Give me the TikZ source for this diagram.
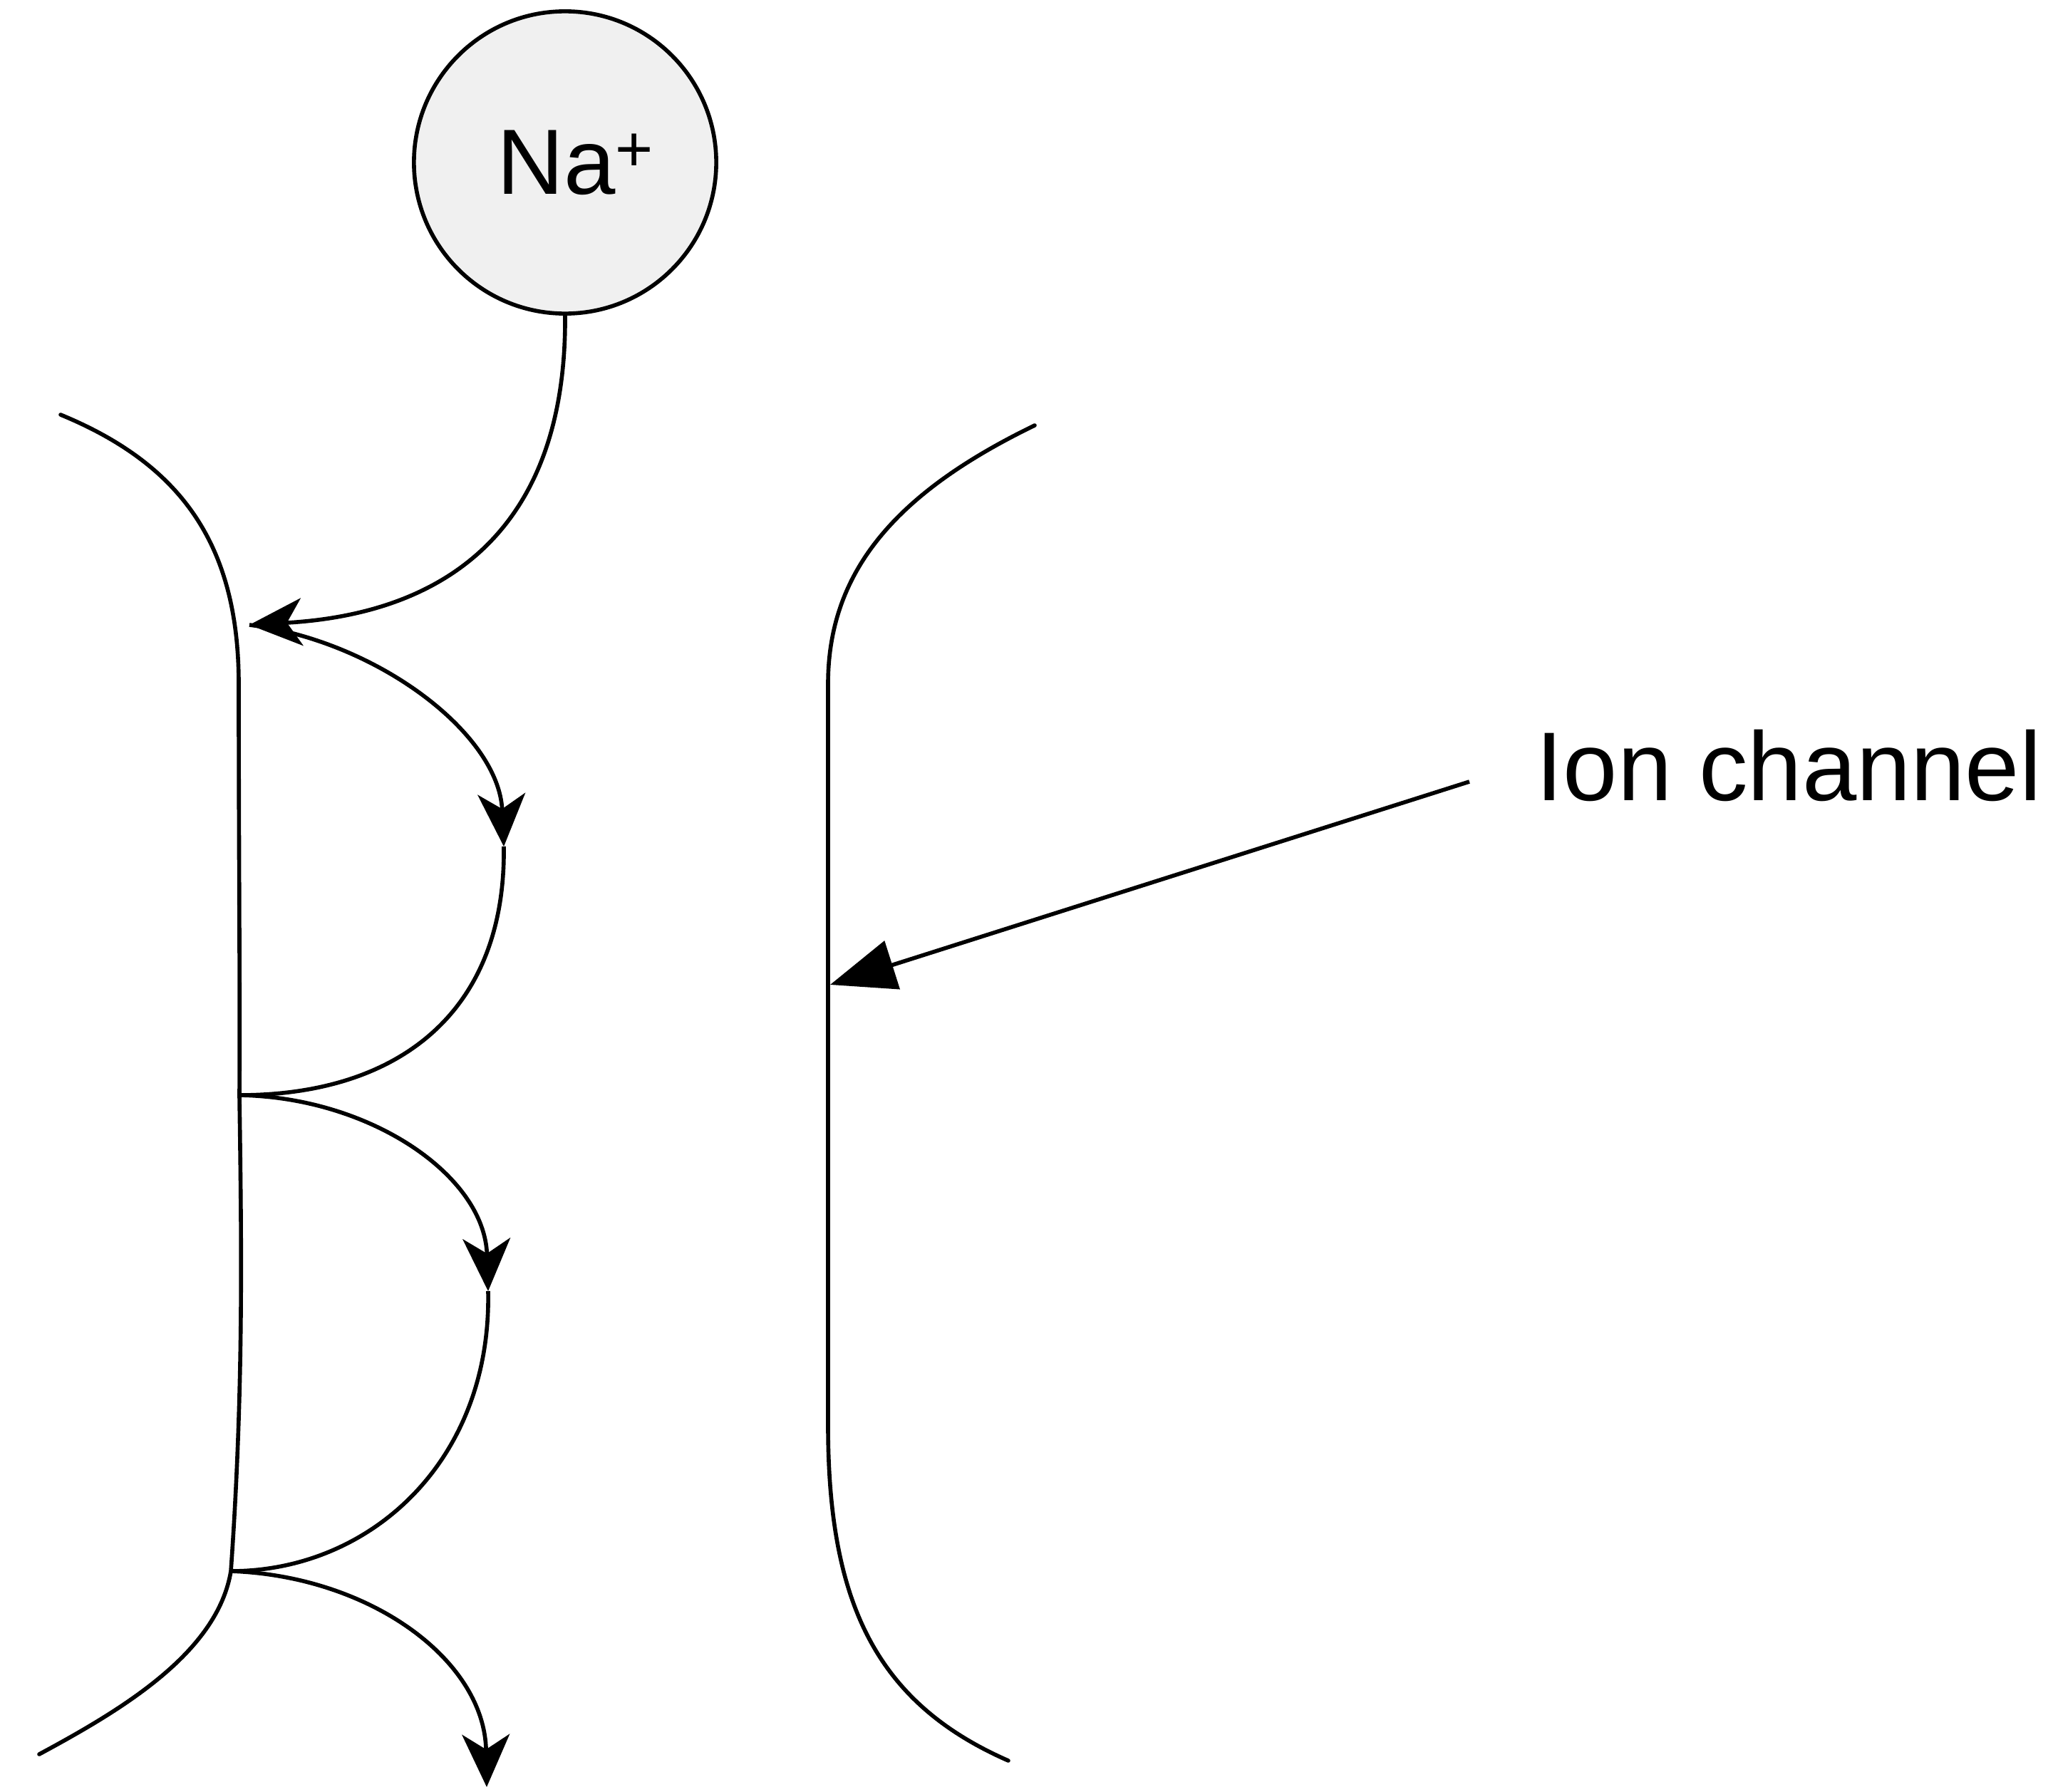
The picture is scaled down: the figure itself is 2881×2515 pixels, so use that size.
\documentclass[tikz,border=0pt]{standalone}
\usepackage{fontspec}
\setmainfont{Liberation Sans}
\usetikzlibrary{arrows.meta,shapes.geometric}
\definecolor{ionfill}{RGB}{240,240,240}
\begin{document}
\begin{tikzpicture}[x=0.01cm,y=-0.01cm,
  memb/.style={line width=1.6pt, line cap=round},
  flow/.style={line width=1.6pt},
  arr/.style={-{Stealth[length=21pt,width=19pt,inset=6pt]}},
  pointer/.style={line width=1.6pt,-{Triangle[length=26pt,width=20pt]}},
  ion/.style={circle, draw, line width=1.6pt, fill=ionfill, minimum size=4.24cm, inner sep=0pt, font=\fontsize{37pt}{44pt}\selectfont},
  lbl/.style={inner sep=0pt, font=\fontsize{39pt}{46pt}\selectfont}]
\useasboundingbox (0,0) rectangle (2881,2515);
\fill[white] (0,0) rectangle (2881,2515);

% Na+ ion
\node[ion] (na) at (793,228) {\hspace*{0.3cm}Na\textsuperscript{+}};

% label
\node[lbl, anchor=base west] (ionlabel) at (2155,1123) {Ion channel};

% named points
\coordinate (j1) at (350,877);
\coordinate (a1) at (707,1188);
\coordinate (j2) at (336,1537);
\coordinate (a2) at (685,1812);
\coordinate (j3) at (324,2205);
\coordinate (a3) at (683,2508);
\coordinate (ionend) at (1165,1382);
\coordinate (iontail) at (2062,1097);

% membranes
\draw[memb] (85,582) .. controls (250,650) and (335,760) .. (335,960)
  .. controls (335,1200) and (337,1400) .. (j2)
  .. controls (339,1750) and (342,1950) .. (j3)
  .. controls (305,2320) and (170,2400) .. (55,2462);
\draw[memb] (1452,597) .. controls (1260,690) and (1162,800) .. (1162,960)
  -- (1162,2000) .. controls (1162,2250) and (1230,2390) .. (1415,2471);

% ion path
\draw[flow,arr] (na.south) .. controls (795,720) and (650,860) .. (j1);
\draw[flow,arr] (j1) .. controls (530,900) and (700,1030) .. (a1);
\draw[flow] (a1) .. controls (710,1420) and (560,1537) .. (j2);
\draw[flow,arr] (j2) .. controls (520,1540) and (680,1650) .. (a2);
\draw[flow] (a2) .. controls (690,2050) and (520,2205) .. (j3);
\draw[flow,arr] (j3) .. controls (520,2212) and (680,2330) .. (a3);

% pointer to ion channel
\draw[pointer] (iontail) -- (ionend);
\end{tikzpicture}
\end{document}
